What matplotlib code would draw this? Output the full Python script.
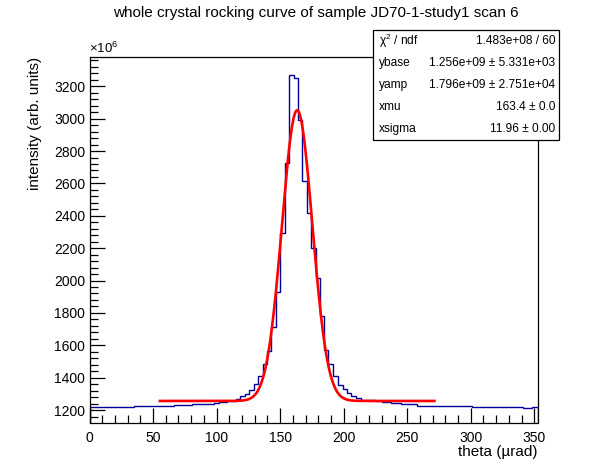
import numpy as np
import matplotlib
matplotlib.use("Agg")
import matplotlib.pyplot as plt
from matplotlib.patches import Rectangle
from matplotlib.ticker import MultipleLocator

plt.rcParams['font.family'] = ['Liberation Sans', 'DejaVu Sans']
plt.rcParams['mathtext.fontset'] = 'custom'
plt.rcParams['mathtext.rm'] = 'Liberation Sans'
plt.rcParams['mathtext.it'] = 'Liberation Sans'

# histogram bin edges (theta, urad) and contents (x1e6)
edges = [0, 34.7, 66.3, 80.8, 97.9, 101.8, 108.4, 115.5, 118.7, 122.0,
         125.5, 129.3, 132.7, 136.5, 140.0, 143.0, 146.6, 150.2, 153.7,
         157.2, 160.7, 164.4, 167.2, 171.2, 174.2, 178.0, 181.3, 184.4,
         188.0, 191.8, 195.9, 199.2, 202.6, 205.9, 209.6, 213.4, 220.3,
         224.3, 230.4, 237.5, 245.4, 258.0, 279.6, 300.7, 319.0, 341.4,
         348.0, 352.5]
counts = [1217, 1225, 1231, 1236, 1241, 1249, 1256, 1268, 1284, 1301,
          1326, 1363, 1412, 1483, 1565, 1710, 1932, 2294, 2727, 3272,
          3251, 2994, 2615, 2418, 2198, 2015, 1783, 1568, 1486, 1410,
          1356, 1328, 1303, 1288, 1272, 1264, 1265, 1256, 1249, 1241,
          1237, 1228, 1225, 1219, 1217, 1212, 1219]

# fit parameters from the stats box
ybase = 1.256e9 / 1e6
yamp = 1.796e9 / 1e6
xmu = 163.4
xsigma = 11.96
fit_lo, fit_hi = 55.4, 271.4

stat_names = ["χ$^{2}$ / ndf", "ybase", "yamp", "xmu", "xsigma"]
stat_vals = ["1.483e+08 / 60", "1.256e+09 ± 5.331e+03",
             "1.796e+09 ± 2.751e+04", "163.4 ± 0.0", "11.96 ± 0.00"]

W, H = 596, 472
fig = plt.figure(figsize=(W / 100, H / 100), dpi=100)
ax = fig.add_axes([89.5 / W, 1 - 422.5 / H, (537.5 - 89.5) / W, (422.5 - 57) / H])

ax.stairs(counts, edges, color='#000099', linewidth=1.0)
xf = np.linspace(fit_lo, fit_hi, 400)
yf = ybase + yamp * np.exp(-0.5 * ((xf - xmu) / xsigma) ** 2)
ax.plot(xf, yf, color='#ff0000', linewidth=1.9)

ax.set_xlim(0, 352.5)
ax.set_ylim(1123, 3381)
ax.xaxis.set_major_locator(MultipleLocator(50))
ax.xaxis.set_minor_locator(MultipleLocator(10))
ax.yaxis.set_major_locator(MultipleLocator(200))
ax.yaxis.set_minor_locator(MultipleLocator(40))
ax.tick_params(which='both', direction='in', labelsize=10, width=0.9)
ax.tick_params(which='major', length=11)
ax.tick_params(which='minor', length=6)
ax.tick_params(axis='x', pad=6)
ax.tick_params(axis='y', pad=3)
for s in ax.spines.values():
    s.set_linewidth(0.9)

fig.text(316 / W, 1 - 13 / H, "whole crystal rocking curve of sample JD70-1-study1 scan 6",
         ha='center', va='center', fontsize=11)
fig.text(89 / W, 1 - 48 / H, r"$\times10^{6}$", ha='left', va='center', fontsize=9.5)
fig.text(35 / W, 1 - 57 / H, "intensity (arb. units)", rotation=90,
         ha='center', va='top', fontsize=11)
fig.text(537 / W, 1 - 452 / H, "theta (µrad)", ha='right', va='center', fontsize=11)

# stats box
bx0, bx1, by0, by1 = 373, 559, 30, 140
fig.add_artist(Rectangle((bx0 / W, 1 - by1 / H), (bx1 - bx0) / W, (by1 - by0) / H,
                         transform=fig.transFigure, facecolor='white',
                         edgecolor='black', linewidth=0.9, zorder=5))
row_h = (by1 - by0) / len(stat_names)
for i, (n, v) in enumerate(zip(stat_names, stat_vals)):
    yc = by0 + row_h * (i + 0.5)
    fig.text((bx0 + 6) / W, 1 - yc / H, n, ha='left', va='center', fontsize=8.6, zorder=6)
    fig.text((bx1 - 4) / W, 1 - yc / H, v, ha='right', va='center', fontsize=8.6, zorder=6)

fig.savefig("out.png", dpi=100)
